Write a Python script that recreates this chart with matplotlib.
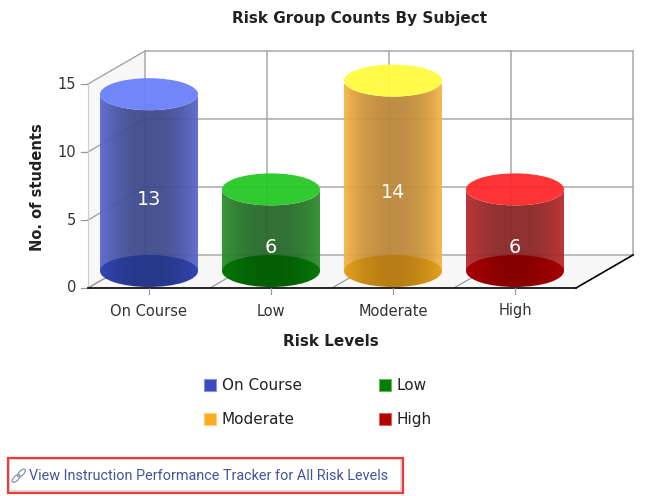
import numpy as np
import matplotlib
matplotlib.use("Agg")
import matplotlib.pyplot as plt
import matplotlib.colors as mcolors
from matplotlib.patches import Polygon, Ellipse, Rectangle, PathPatch
from matplotlib.path import Path

# data
categories = ["On Course", "Low", "Moderate", "High"]
counts = [13, 6, 14, 6]
y_ticks = [0, 5, 10, 15]
legend_colors = ["#3a4bc0", "#008000", "#ffab22", "#b00000"]

# cylinder shading (edge of side, middle of side, top cap, bottom cap)
side_edge = ["#5867cf", "#2a8f2a", "#f7b444", "#b92a2a"]
side_mid = ["#3c488a", "#246628", "#bb8738", "#872323"]
top_cols = ["#6a80fa", "#26c726", "#fffb3e", "#ff2a2a"]
bottom_edge = ["#3346b0", "#067a06", "#e6a21e", "#aa0000"]
bottom_mid = ["#27378a", "#045e04", "#b87e16", "#880000"]

W, H = 671, 496
fig = plt.figure(figsize=(W / 100, H / 100), dpi=100)


def fx(px):
    return px / W


def fy(py):
    return 1 - py / H


# front face of the plot box in pixels
left, right, base, top15 = 88, 576, 288, 84
ax = fig.add_axes([fx(left), fy(base), (right - left) / W, (base - top15) / H])
ax.axis("off")

px_x = (right - left) / len(categories)
px_y = (base - top15) / 15.0
DX = 57 / px_x   # depth offset of the back wall
DY = 33 / px_y
MID = 17 / px_y  # cylinders stand at mid depth
RX = 49 / px_x
RY = 16 / px_y

x0, x1 = -0.5, len(categories) - 0.5
grid_c = "#a8a8a8"
side_c = "#9c9c9c"

# walls
ax.add_patch(Polygon([(x0, 0), (x0, 15), (x0 + DX, 15 + DY), (x0 + DX, DY)],
                     closed=True, fc="#f7f7f7", ec="none", zorder=1, clip_on=False))
ax.add_patch(Polygon([(x0, 0), (x1, 0), (x1 + DX, DY), (x0 + DX, DY)],
                     closed=True, fc="#f7f7f7", ec="none", zorder=1, clip_on=False))

for v in y_ticks:
    ax.plot([x0 + DX, x1 + DX], [v + DY, v + DY], color=grid_c, lw=1.1, zorder=2, clip_on=False)
    ax.plot([x0, x0 + DX], [v, v + DY], color=side_c, lw=0.9, zorder=2, clip_on=False)
    ax.plot([x0 - 7 / px_x, x0], [v, v], color="#999999", lw=0.9, zorder=2, clip_on=False)
    ax.text(x0 - 12 / px_x, v, str(v), ha="right", va="center", fontsize=10.5,
            color="#333333")

for k in range(len(categories) + 1):
    xb = x0 + k + DX
    ax.plot([xb, xb], [DY, 15 + DY], color=grid_c, lw=1.1, zorder=2, clip_on=False)
    if k < len(categories):
        ax.plot([x0 + k, xb], [0, DY], color=side_c, lw=0.9, zorder=2, clip_on=False)

ax.plot([x0, x0], [0, 15], color="#cccccc", lw=0.8, zorder=2, clip_on=False)
ax.plot([x0, x1], [0, 0], color="black", lw=1.2, zorder=2, clip_on=False)
ax.plot([x1, x1 + DX], [0, DY], color="black", lw=1.2, zorder=2, clip_on=False)

for i, name in enumerate(categories):
    ax.plot([i, i], [0, -6 / px_y], color="#999999", lw=0.9, zorder=2, clip_on=False)
    ax.text(i, -23 / px_y, name, ha="center", va="center", fontsize=10.5, color="#333333")


def gradient(c_mid, c_edge, alpha, power=1.6):
    t = np.linspace(0, 1, 120)
    w = np.abs(2 * t - 1) ** power
    a = np.array(mcolors.to_rgb(c_mid))
    b = np.array(mcolors.to_rgb(c_edge))
    rgb = a[None, :] * (1 - w[:, None]) + b[None, :] * w[:, None]
    img = np.concatenate([rgb, np.full((len(t), 1), alpha)], axis=1)
    return img[None, :, :]


# cylinders
for i, v in enumerate(counts):
    yb = MID
    yt = v + MID
    th = np.linspace(0, -np.pi, 60)
    verts = [(i - RX, yt), (i - RX, yb), (i + RX, yb), (i + RX, yt)]
    verts += list(zip(i + RX * np.cos(th), yt + RY * np.sin(th)))
    verts.append(verts[0])
    side = PathPatch(Path(verts, closed=True), fc="none", ec="none", clip_on=False)
    ax.add_patch(side)
    im = ax.imshow(gradient(side_mid[i], side_edge[i], 0.94, power=2.2),
                   extent=(i - RX, i + RX, yb - RY, yt), aspect="auto",
                   interpolation="bilinear", zorder=3)
    im.set_clip_path(side)

    bot = Ellipse((i, yb), 2 * RX, 2 * RY, fc="none", ec="none", clip_on=False)
    ax.add_patch(bot)
    im2 = ax.imshow(gradient(bottom_mid[i], bottom_edge[i], 1.0, power=2.0),
                    extent=(i - RX, i + RX, yb - RY, yb + RY), aspect="auto",
                    interpolation="bilinear", zorder=4)
    im2.set_clip_path(bot)

    ax.add_patch(Ellipse((i, yt), 2 * RX, 2 * RY, fc=top_cols[i], ec="none",
                         alpha=0.95, zorder=5, clip_on=False))
    ax.text(i, v / 2, str(v), ha="center", va="center", fontsize=13.8,
            color="white", zorder=6)

ax.set_xlim(x0, x1)
ax.set_ylim(0, 15)

# titles
fig.text(fx(360), fy(19), "Risk Group Counts By Subject", ha="center", va="center",
         fontsize=11, fontweight="bold", color="#222222")
fig.text(fx(38), fy(187), "No. of students", ha="center", va="center", rotation=90,
         fontsize=10.5, fontweight="bold", color="#222222")
fig.text(fx(331), fy(342), "Risk Levels", ha="center", va="center",
         fontsize=11, fontweight="bold", color="#222222")

# legend
for idx, name in enumerate(categories):
    sx = [204, 379][idx % 2]
    sy = [379, 413][idx // 2]
    edge = 0.6 * np.array(mcolors.to_rgb(legend_colors[idx])) + 0.4
    fig.patches.append(Rectangle((fx(sx), fy(sy + 12)), 12 / W, 12 / H,
                                 fc=legend_colors[idx], ec=edge, lw=0.8,
                                 transform=fig.transFigure, figure=fig))
    fig.text(fx(sx + 18), fy(sy + 6.5), name, ha="left", va="center",
             fontsize=11, color="#222222")

# link box
fig.patches.append(Rectangle((fx(9), fy(491)), 392 / W, 32 / H, fc="none",
                             ec="#d6d6d6", lw=1.2, transform=fig.transFigure, figure=fig))
fig.patches.append(Rectangle((fx(7.5), fy(492.5)), 395 / W, 35 / H, fc="none",
                             ec="#ee3a3a", lw=1.6, transform=fig.transFigure, figure=fig))

# chain link icon in a small pixel-scaled axes
icon = fig.add_axes([fx(10), fy(485), 18 / W, 18 / H])
icon.set_xlim(0, 18)
icon.set_ylim(0, 18)
icon.axis("off")
for cx, cy in [(6.0, 6.5), (11.5, 12.0)]:
    icon.add_patch(Ellipse((cx, cy), 10, 4.6, angle=45, fc="none", ec="#8593b0",
                           lw=0.9, clip_on=False))

fig.text(fx(29), fy(476), "View Instruction Performance Tracker for All Risk Levels",
         ha="left", va="center", fontsize=10.4, family="Roboto", color="#44549a")

fig.savefig("out.png", dpi=100)
